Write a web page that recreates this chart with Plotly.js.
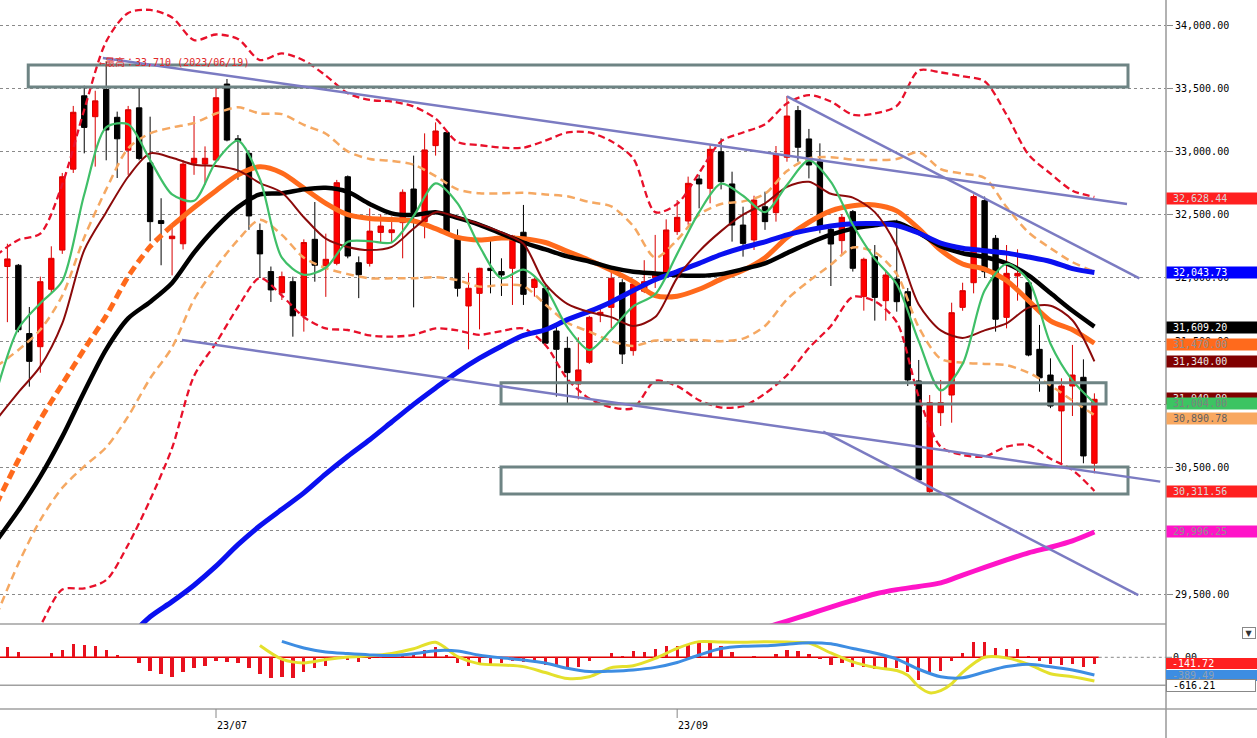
<!DOCTYPE html>
<html><head><meta charset="utf-8">
<script src="https://cdn.plot.ly/plotly-3.0.1.min.js"></script>
<style>html,body{margin:0;padding:0;background:#fff;overflow:hidden}#chart{width:1257px;height:738px}</style>
</head><body><div id="chart"></div>
<script>
// ---------------- DATA ----------------
const dates = [
 '2023-06-05','2023-06-06','2023-06-07','2023-06-08','2023-06-09','2023-06-12','2023-06-13','2023-06-14','2023-06-15','2023-06-16',
 '2023-06-19','2023-06-20','2023-06-21','2023-06-22','2023-06-23','2023-06-26','2023-06-27','2023-06-28','2023-06-29','2023-06-30',
 '2023-07-03','2023-07-04','2023-07-05','2023-07-06','2023-07-07','2023-07-10','2023-07-11','2023-07-12','2023-07-13','2023-07-14',
 '2023-07-18','2023-07-19','2023-07-20','2023-07-21','2023-07-24','2023-07-25','2023-07-26','2023-07-27','2023-07-28','2023-07-31',
 '2023-08-01','2023-08-02','2023-08-03','2023-08-04','2023-08-07','2023-08-08','2023-08-09','2023-08-10','2023-08-14','2023-08-15',
 '2023-08-16','2023-08-17','2023-08-18','2023-08-21','2023-08-22','2023-08-23','2023-08-24','2023-08-25','2023-08-28','2023-08-29',
 '2023-08-30','2023-08-31','2023-09-01','2023-09-04','2023-09-05','2023-09-06','2023-09-07','2023-09-08','2023-09-11','2023-09-12',
 '2023-09-13','2023-09-14','2023-09-15','2023-09-19','2023-09-20','2023-09-21','2023-09-22','2023-09-25','2023-09-26','2023-09-27',
 '2023-09-28','2023-09-29','2023-10-02','2023-10-03','2023-10-04','2023-10-05','2023-10-06','2023-10-10','2023-10-11','2023-10-12',
 '2023-10-13','2023-10-16','2023-10-17','2023-10-18','2023-10-19','2023-10-20','2023-10-23','2023-10-24','2023-10-25','2023-10-26',
 '2023-10-27'];
const candleDates = dates.slice(1);
const openP = [32090,32100,31560,31456,31910,32220,32860,33440,33275,33490,
 33270,33010,33345,32910,32453,32310,32270,32906,32900,32932,
 33533,33100,32985,32375,32050,31883,31970,31700,32305,32097,
 32115,32800,32120,32115,32360,32358,32437,32703,32445,33046,
 33149,32313,31778,31878,32076,32050,32076,32361,31925,31918,
 31580,31443,31161,31333,31707,31767,31962,31425,31895,32000,
 32036,32366,32450,32782,32708,32998,32743,32418,32300,32563,
 32516,32954,33323,33099,32919,32384,32295,32524,31852,32168,
 31820,31991,31891,31185,30310,30934,31074,31767,31962,32611,
 32313,31688,32015,31962,31435,31232,30948,31145,31214,30534];
const highP = [32270,32110,31770,32010,32250,32830,33360,33520,33480,33710,
 33315,33360,33500,33275,32630,32420,32930,33280,33040,33507,
 33573,33130,33010,32430,32090,32050,32010,32305,32600,32350,
 32775,32810,32170,32550,32500,32485,32700,32967,33143,33230,
 33160,32384,32041,32080,32300,32155,32340,32577,32000,31940,
 31614,31535,31530,31700,31770,32050,31990,31960,32140,32340,
 32463,32616,32801,32815,33051,33104,32840,32563,32650,32682,
 33043,33439,33360,33178,33064,32410,32505,32537,32160,32260,
 32063,32460,31920,31351,31074,31193,31804,31962,32660,32643,
 32339,32260,32226,31990,31628,31364,31206,31470,31356,31087];
const lowP = [31650,31570,31140,31250,31880,32190,32830,32985,32880,32930,
 32790,32815,32930,32290,32100,32020,32225,32815,32735,32930,
 33080,32775,32380,32000,31810,31825,31535,31575,31970,31850,
 32100,32155,31840,32090,32275,32275,32155,31767,32313,32967,
 32340,31852,31435,31593,31878,31857,31786,31786,31852,31470,
 31061,30995,31040,31320,31650,31601,31319,31385,31880,31920,
 32000,32340,32420,32550,32590,32700,32287,32168,32221,32380,
 32445,32919,32919,32787,32353,31936,32181,32050,31741,31662,
 31662,31733,31145,30390,30297,30829,30855,31740,31878,32000,
 31575,31601,31820,31380,31100,30970,30534,30908,30534,30455];
const closeP = [32150,31590,31340,31970,32155,32800,33310,33190,33400,33170,
 33100,33330,32945,32445,32430,32330,32900,32946,32946,33425,
 33090,33080,32490,32190,31905,32010,31700,32280,32100,32147,
 32753,32173,32025,32370,32410,32380,32677,32516,33012,33162,
 32358,31918,31918,32076,32058,32023,32331,31870,31989,31483,
 31435,31251,31272,31688,31728,31997,31398,31952,31970,32040,
 32379,32479,32748,32743,33017,32761,32418,32273,32616,32445,
 32977,33280,33033,32893,32413,32268,32479,32076,32147,31846,
 32023,31812,31193,30402,31014,31014,31725,31899,32643,32049,
 31673,32036,32036,31390,31210,30987,31145,31232,30592,31040];

// line samples on every second trading day (2023-06-05 ... 2023-10-27)
const sampleDates = dates.filter((d, k) => k % 2 === 0);
const ma5 = [31100,31600,31800,31975,32660,33190,33215,32932,32660,32610,32920,33085,32780,
 32160,32025,32080,32285,32290,32280,32490,32748,32590,32250,31997,32065,31920,31610,31430,31590,
 31775,31870,32190,32520,32745,32650,32520,32735,32930,32760,32420,32150,31950,31500,31110,31320,
 31900,32110,31980,31480,31190,31010];
const ma10 = [30880,31095,31300,31640,32220,32520,32800,32985,32950,32895,32885,32850,32750,
 32675,32480,32310,32245,32220,32245,32390,32520,32480,32425,32360,32270,31950,31795,31730,31690,
 31620,31690,32000,32210,32370,32500,32590,32720,32760,32665,32635,32520,32250,31790,31585,31525,
 31585,31640,31765,31780,31665,31340];
const ma25 = [30213,30560,30880,31160,31436,31700,32010,32247,32413,32557,32690,32815,32879,
 32830,32710,32590,32500,32470,32462,32450,32390,32320,32300,32315,32310,32280,32210,32140,32060,
 31970,31860,31855,31910,31990,32060,32160,32320,32440,32530,32570,32577,32530,32390,32220,32110,
 32070,31980,31820,31660,31590,31483];
const maMid = [29920,30160,30430,30745,31100,31435,31680,31810,31960,32200,32400,32560,32660,
 32669,32700,32712,32680,32585,32510,32498,32520,32475,32420,32350,32280,32225,32170,32130,32081,
 32049,32035,32021,32017,32030,32069,32115,32196,32275,32342,32390,32416,32437,32357,32250,32195,
 32165,32115,32020,31880,31740,31615];
const ma75 = [null,null,null,null,null,null,29150,29320,29440,29570,29720,29890,30040,
 30170,30300,30450,30590,30720,30860,31000,31130,31255,31365,31460,31545,31590,31670,31735,31810,
 31900,31985,32050,32115,32185,32240,32285,32340,32380,32410,32428,32430,32415,32355,32275,32235,
 32215,32196,32165,32130,32073,32042];
const ma200 = [null,null,null,null,null,null,null,null,null,null,null,null,null,
 null,null,null,null,null,null,null,null,null,null,null,null,null,null,null,null,
 null,null,null,null,29130,29180,29232,29286,29340,29397,29450,29500,29535,29560,29588,29650,
 29710,29770,29826,29870,29920,29990];
const bbUp2 = [32180,32300,32350,32740,33330,33870,34095,34119,34060,33880,33925,33890,33723,
 33775,33720,33600,33460,33407,33395,33355,33260,33075,33050,33030,33030,33085,33150,33150,33080,
 32945,32520,32585,32830,33080,33150,33215,33380,33445,33395,33290,33300,33360,33640,33625,33595,
 33555,33290,32975,32825,32690,32640];
const bbUp1 = [31300,31430,31590,31860,32320,32700,33025,33143,33190,33225,33300,33350,33300,
 33295,33210,33140,33000,32940,32925,32895,32805,32700,32669,32669,32673,32660,32645,32600,32565,
 32410,32160,32300,32500,32585,32605,32665,32845,32945,32955,32935,32933,32940,32995,32860,32825,
 32790,32560,32360,32235,32125,32050];
const bbLo1 = [29330,29740,30085,30340,30510,30660,30905,31205,31450,31830,32085,32300,32460,
 32340,32160,32078,32030,31997,31997,31998,32005,31983,31931,31945,31935,31790,31645,31575,31500,
 31462,31505,31509,31509,31500,31520,31620,31830,31975,32105,32240,32203,32030,31610,31360,31330,
 31320,31310,31250,31150,31030,30915];
const bbLo2 = [28800,28950,29250,29535,29545,29610,29890,30245,30655,31225,31485,31770,32000,
 31860,31690,31600,31588,31545,31535,31550,31600,31585,31550,31580,31600,31470,31200,31046,30978,
 30970,31186,31144,31033,30975,30985,31085,31230,31445,31620,31850,31815,31650,31060,30665,30600,
 30587,30666,30680,30570,30481,30315];

// MACD panel
const macdHist = [233,123,0,0,88,161,293,271,249,161,51,0,-117,-293,-374,-425,-315,-227,-183,
 -73,-95,-117,-227,-367,-447,-440,-447,-315,-242,
 -183,-20,-59,-95,-37,-10,51,73,73,161,
 220,51,-117,-183,-169,-154,-132,-73,-95,-95,
 -169,-205,-205,-220,-73,0,88,29,139,125,
 183,257,257,271,323,345,249,125,10,37,
 0,66,161,139,66,-44,-169,-132,-205,-205,
 -257,-227,-242,-330,-499,-374,-301,-73,88,330,
 345,198,183,183,37,-73,-154,-169,-154,-205,
 -142];
const macdDates = ['2023-07-07','2023-07-11','2023-07-13','2023-07-18','2023-07-20','2023-07-24','2023-07-26','2023-07-28',
 '2023-08-01','2023-08-03','2023-08-07','2023-08-09','2023-08-14','2023-08-16','2023-08-18','2023-08-22','2023-08-24',
 '2023-08-28','2023-08-30','2023-09-01','2023-09-05','2023-09-07','2023-09-11','2023-09-13','2023-09-15','2023-09-20',
 '2023-09-22','2023-09-26','2023-09-28','2023-10-02','2023-10-03','2023-10-04','2023-10-05','2023-10-06','2023-10-10',
 '2023-10-11','2023-10-13','2023-10-17','2023-10-19','2023-10-23','2023-10-25','2023-10-27'];
const macdLine = [260,-40,-123,-49,7,32,84,187,330,15,-144,-169,-205,-336,-468,-428,-227,-185,-24,198,
 345,335,333,342,334,311,95,-101,-221,-291,-395,-646,-782,-733,-581,-331,0,-13,-155,-363,-428,-521];
const signalDates = ['2023-07-11','2023-07-13','2023-07-18','2023-07-20','2023-07-24','2023-07-26','2023-07-28',
 '2023-08-01','2023-08-03','2023-08-07','2023-08-09','2023-08-14','2023-08-16','2023-08-18','2023-08-22','2023-08-24',
 '2023-08-28','2023-08-30','2023-09-01','2023-09-05','2023-09-07','2023-09-11','2023-09-13','2023-09-15','2023-09-20',
 '2023-09-22','2023-09-26','2023-09-28','2023-10-02','2023-10-04','2023-10-06','2023-10-11','2023-10-13','2023-10-17',
 '2023-10-19','2023-10-23','2023-10-25','2023-10-27'];
const signalLine = [350,205,116,81,53,38,79,146,139,47,-11,-59,-125,-242,-315,-306,-279,-222,-115,51,
 193,242,255,289,322,298,193,93,-39,-263,-428,-451,-325,-203,-154,-208,-280,-389];

// drawn objects (price zones and trend lines)
const zoneLow   = [33510, 31003, 30291];
const zoneHigh  = [33684, 31170, 30505];
const zoneStart = [-17.1, 25.96, 25.96];
const zoneEnd   = [83.06, 81.06, 83.06];
const trendX0 = [-10.3, 52.0, -3.1, 55.3];
const trendY0 = [33739, 33436, 31509, 30784];
const trendX1 = [82.97, 84.1, 86.0, 84.0];
const trendY1 = [32584, 31997, 30389, 29492];

const tickDates = ['2023-07-03', '2023-09-01'];
const tickText  = ['23/07', '23/09'];
const peakText = '←最高：33,710 (2023/06/19)';
const peakDate = '2023-06-19';
const peakValue = 33710;
const priceLabels = [32628.44, 32043.73, 31609.20, 31470.00, 31340.00, 31049.00, 31004.00, 30890.78, 30311.56, 29996.25];
const macdLabels = [-141.72, -389.49, -616.21];

// ---------------- CHART ----------------
const W = 1257, H = 738;
const X = d => dates.indexOf(d) - dates.indexOf('2023-07-03');
const candleX = candleDates.map(X);
const sampleX = sampleDates.map(X);
const fmt = v => v.toLocaleString('en-US', {minimumFractionDigits: 2, maximumFractionDigits: 2});
const right = 1166 / W;
const mono = 'DejaVu Sans Mono, Liberation Mono, monospace';

function ln(x, y, color, width, dash, ax) {
  return {type: 'scatter', mode: 'lines', x: x, y: y, yaxis: ax || 'y', hoverinfo: 'skip',
    line: {color: color, width: width, dash: dash || 'solid', shape: 'spline', smoothing: 0.8}};
}
const data = [];
data.push({type: 'candlestick', x: candleX, open: openP, high: highP, low: lowP, close: closeP,
  increasing: {line: {color: '#d80000', width: 1}, fillcolor: '#ff0000'},
  decreasing: {line: {color: '#000000', width: 1}, fillcolor: '#000000'},
  whiskerwidth: 0, hoverinfo: 'skip'});
data.push(ln(sampleX, bbUp2, '#e8102a', 2.3, '7px,4px'));
data.push(ln(sampleX, bbLo2, '#e8102a', 2.3, '7px,4px'));
data.push(ln(sampleX, bbUp1, '#f5a862', 2.5, '8px,5px'));
data.push(ln(sampleX, bbLo1, '#f5a862', 2.5, '8px,5px'));
data.push(ln(sampleX.slice(0, 9), ma25.slice(0, 9), '#ff6a1c', 5, '9px,5px'));
data.push(ln(sampleX.slice(8), ma25.slice(8), '#ff6a1c', 5));
data.push(ln(sampleX, maMid, '#000000', 4.5));
data.push(ln(sampleX, ma75, '#0a10f0', 5));
data.push(ln(sampleX, ma200, '#ff14c8', 5));
data.push(ln(sampleX, ma10, '#8b0a0a', 2));
data.push(ln(sampleX, ma5, '#3fbf68', 2.2));
// MACD
data.push({type: 'bar', x: candleX, y: macdHist, yaxis: 'y2', width: 0.3, marker: {color: '#e8101e'}, hoverinfo: 'skip'});
data.push(ln(macdDates.map(X), macdLine, '#e4e02c', 3, 'solid', 'y2'));
data.push(ln(signalDates.map(X), signalLine, '#3d8de2', 3, 'solid', 'y2'));

const shapes = [];
zoneLow.forEach((v, k) => shapes.push({type: 'rect', xref: 'x', yref: 'y', x0: zoneStart[k], x1: zoneEnd[k],
  y0: v, y1: zoneHigh[k], line: {color: '#6e8484', width: 3}, fillcolor: 'rgba(0,0,0,0)', layer: 'above'}));
trendX0.forEach((v, k) => shapes.push({type: 'line', xref: 'x', yref: 'y', x0: v, y0: trendY0[k],
  x1: trendX1[k], y1: trendY1[k], line: {color: '#7b7bc2', width: 2.5}, layer: 'above'}));
const lastX = candleX[candleX.length - 1];
const zeroEnd = (216 + 10.98 * (lastX + 0.4)) / W;
shapes.push({type: 'line', xref: 'paper', yref: 'y2', x0: 0, x1: zeroEnd, y0: 0, y1: 0,
  line: {color: '#e00000', width: 1.5}, layer: 'below'});
shapes.push({type: 'line', xref: 'paper', yref: 'y2', x0: zeroEnd, x1: right, y0: 0, y1: 0,
  line: {color: '#888', width: 1, dash: '3px,3px'}});
shapes.push({type: 'line', xref: 'paper', yref: 'y2', x0: 0, x1: right, y0: macdLabels[2], y1: macdLabels[2],
  line: {color: '#a0a0a0', width: 1.5}, layer: 'below'});
shapes.push({type: 'line', xref: 'paper', yref: 'paper', x0: 0, x1: right, y0: 1 - 624 / H, y1: 1 - 624 / H,
  line: {color: '#a0a0a0', width: 1.5}});
shapes.push({type: 'line', xref: 'paper', yref: 'paper', x0: 0, x1: 1, y0: 1 - 709 / H, y1: 1 - 709 / H,
  line: {color: '#a0a0a0', width: 1.5}});
shapes.push({type: 'line', xref: 'paper', yref: 'paper', x0: right, x1: right, y0: 0, y1: 1,
  line: {color: '#999', width: 1.5}});
shapes.push({type: 'line', xref: 'paper', yref: 'y2', x0: right, x1: right + 6 / W, y0: 0, y1: 0,
  line: {color: '#888', width: 1}});
tickDates.forEach(d => shapes.push({type: 'line', xref: 'x', yref: 'paper', x0: X(d), x1: X(d),
  y0: 1 - 709 / H, y1: 1 - 718 / H, line: {color: '#888', width: 1}}));

const annotations = [];
tickDates.forEach((d, k) => annotations.push({xref: 'x', yref: 'paper', x: X(d), y: 1 - 725 / H,
  xanchor: 'left', yanchor: 'middle', text: tickText[k], showarrow: false, xshift: -1,
  font: {family: mono, size: 10, color: '#000'}}));
annotations.push({xref: 'x', yref: 'y', x: X(peakDate), y: peakValue, xanchor: 'left', yanchor: 'middle',
  text: peakText, showarrow: false, xshift: -9,
  font: {family: 'DejaVu Sans Mono, Noto Sans CJK JP', size: 10, color: '#e02828'}});
const labelStyle = [
  ['#ff2020', '#d8d8d8'], ['#0000ff', '#ffffff'], ['#000000', '#ffffff'], ['#ff6a1c', '#909090'],
  ['#800000', '#e8e8e8'], ['#800000', '#e8e8e8'], ['#3cc462', '#808080'], ['#f8a860', '#606060'],
  ['#ff2020', '#d8d8d8'], ['#ff14c8', '#909090']];
priceLabels.forEach((v, k) => annotations.push({xref: 'paper', yref: 'y', x: right, y: v,
  xanchor: 'left', yanchor: 'middle', text: '\u00a0' + fmt(v), showarrow: false, align: 'left',
  width: 91, height: 11, borderpad: 0, bgcolor: labelStyle[k][0],
  font: {family: mono, size: 10, color: labelStyle[k][1]}}));
annotations.push({xref: 'paper', yref: 'y2', x: right, y: 0, xanchor: 'left', yanchor: 'middle',
  text: '\u00a0' + fmt(0), showarrow: false, align: 'left', width: 91, height: 11, borderpad: 0,
  font: {family: mono, size: 10, color: '#000'}});
const macdStyle = [['#ff2020', '#ffffff', 0], ['#3d8de2', '#90a0b0', 0], ['#ffffff', '#000000', 1]];
macdLabels.forEach((v, k) => annotations.push({xref: 'paper', yref: 'y2', x: right, y: v,
  xanchor: 'left', yanchor: 'middle', text: '\u00a0' + fmt(v), showarrow: false, align: 'left',
  width: macdStyle[k][2] ? 88 : 91, height: 11, borderpad: 0, bgcolor: macdStyle[k][0],
  bordercolor: '#888', borderwidth: macdStyle[k][2],
  font: {family: mono, size: 10, color: macdStyle[k][1]}}));
annotations.push({xref: 'paper', yref: 'paper', x: 1249 / W, y: 1 - 633 / H, xanchor: 'center', yanchor: 'middle',
  text: '▼', showarrow: false, width: 12, height: 10, borderpad: 0, bgcolor: '#fff', bordercolor: '#888',
  borderwidth: 1, font: {family: 'DejaVu Sans', size: 8, color: '#333'}});

const layout = {
  width: W, height: H, margin: {l: 0, r: 0, t: 0, b: 0},
  paper_bgcolor: '#ffffff', plot_bgcolor: '#ffffff', showlegend: false, hovermode: false, dragmode: false,
  xaxis: {domain: [0, right], range: [(0 - 216) / 10.98, (1166 - 216) / 10.98], anchor: 'y2',
    showgrid: false, zeroline: false, showticklabels: false, ticks: '', rangeslider: {visible: false}, fixedrange: true},
  yaxis: {domain: [1 - 624 / H, 1], range: [29263, 34197.7], side: 'right', anchor: 'x',
    tickformat: ',.2f', tick0: 0, dtick: 500, ticks: 'outside', ticklen: 6, tickcolor: '#888',
    showgrid: true, gridcolor: '#8a8a8a', griddash: '3px,3px', gridwidth: 1, zeroline: false, showline: false,
    tickfont: {family: mono, size: 10, color: '#000'}, fixedrange: true},
  yaxis2: {domain: [1 - 709 / H, 1 - 624 / H], range: [-1137.4, 732.6], anchor: 'x',
    showgrid: false, zeroline: false, showticklabels: false, ticks: '', fixedrange: true},
  bargap: 0, shapes: shapes, annotations: annotations
};
Plotly.newPlot('chart', data, layout, {staticPlot: true, displayModeBar: false});
</script>
</body></html>
